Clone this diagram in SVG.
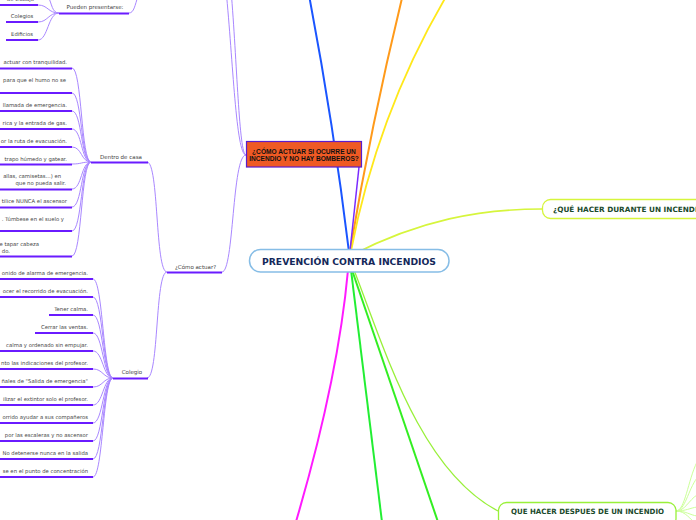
<svg xmlns="http://www.w3.org/2000/svg" width="696" height="520" viewBox="0 0 696 520">
<style>
.t{font-family:"DejaVu Sans",Verdana,sans-serif;font-size:5.3px;fill:#444}
.m{font-family:"DejaVu Sans",Verdana,sans-serif;font-size:5.5px;fill:#444}
.u{stroke:#6a1bff;stroke-width:2;fill:none}
.c{stroke:#a987ff;stroke-width:1;fill:none}
.ttl{font-family:"DejaVu Sans",Verdana,sans-serif;font-weight:bold}
</style>
<rect width="696" height="520" fill="#fff"/>
<g id="connectors" fill="none">
<path d="M349,252 Q333,120 308,-10" stroke="#1a55ff" stroke-width="2"/>
<path d="M350,251 Q372,120 404,-10" stroke="#ff9a1a" stroke-width="2"/>
<path d="M351,251 Q378,110 450,-10" stroke="#ffe81a" stroke-width="1.8"/>
<path d="M350,251 L359,167" stroke="#7a2aff" stroke-width="1.5"/>
<path d="M352,255 C420,220 480,209 542,209" stroke="#d6f53c" stroke-width="1.6"/>
<path d="M348,270 Q338,380 295,525" stroke="#ff1aff" stroke-width="2"/>
<path d="M351,270 L382,522" stroke="#22ee33" stroke-width="2"/>
<path d="M352,270 L438,522" stroke="#33ee22" stroke-width="2"/>
<path d="M354,270 C385,350 420,470 498,511" stroke="#99f03a" stroke-width="1.3"/>
<path d="M676,511 C685,511 688,480 697,462" stroke="#ccff99" stroke-width="1"/>
<path d="M676,511 C685,511 688,490 697,478" stroke="#ccff99" stroke-width="1"/>
<path d="M676,511 C685,511 689,500 697,495" stroke="#ccff99" stroke-width="1"/>
<path d="M676,511 C686,511 690,508 697,507" stroke="#ccff99" stroke-width="1"/>
<path d="M676,511 C686,511 690,515 697,516" stroke="#ccff99" stroke-width="1"/>
<path d="M676,511 C686,511 690,520 697,524" stroke="#ccff99" stroke-width="1"/>
<path class="c" d="M246,155 C236,155 233,60 226,-10"/>
<path class="c" d="M246,155 C239,155 237,60 231,-10"/>
<path class="c" d="M246,155 C232,155 234,272 222,272"/>
<path class="c" d="M167,272 C155,272 159,162 147,162"/>
<path class="c" d="M167,272 C155,272 159,378 147,378"/>
<path class="c" d="M129,13 C134,13 135,5 138,-4"/>
<path class="c" d="M59,13 C52,13 52,4 48,-4"/>
<path class="c" d="M59,13 C48,13 48,5 38,5"/>
<path class="c" d="M59,13 C48,13 48,22 38,22"/>
<path class="c" d="M59,13 C48,13 48,40 38,40"/>
<path class="c" d="M91,162 C81,162 82,68 72,68"/>
<path class="c" d="M91,162 C81,162 82,93 72,93"/>
<path class="c" d="M91,162 C81,162 82,111 72,111"/>
<path class="c" d="M91,162 C81,162 82,129 72,129"/>
<path class="c" d="M91,162 C81,162 82,147 72,147"/>
<path class="c" d="M91,162 C81,162 82,164 72,164"/>
<path class="c" d="M91,162 C81,162 82,189 72,189"/>
<path class="c" d="M91,162 C81,162 82,207 72,207"/>
<path class="c" d="M91,162 C81,162 82,231 72,231"/>
<path class="c" d="M91,162 C81,162 82,256 72,256"/>
<path class="c" d="M113,378 C103,378 103,279 93,279"/>
<path class="c" d="M113,378 C103,378 103,297 93,297"/>
<path class="c" d="M113,378 C103,378 103,315 93,315"/>
<path class="c" d="M113,378 C103,378 103,333 93,333"/>
<path class="c" d="M113,378 C103,378 103,351 93,351"/>
<path class="c" d="M113,378 C103,378 103,369 93,369"/>
<path class="c" d="M113,378 C103,378 103,387 93,387"/>
<path class="c" d="M113,378 C103,378 103,405 93,405"/>
<path class="c" d="M113,378 C103,378 103,423 93,423"/>
<path class="c" d="M113,378 C103,378 103,441 93,441"/>
<path class="c" d="M113,378 C103,378 103,459 93,459"/>
<path class="c" d="M113,378 C103,378 103,477 93,477"/>
</g>
<g id="root">
<rect x="249.5" y="249.5" width="199.5" height="22.5" rx="11" fill="#fff" stroke="#86bde6" stroke-width="1.5"/>
<text class="ttl" x="349" y="265" text-anchor="middle" font-size="8.7" fill="#14285a" textLength="174" lengthAdjust="spacingAndGlyphs">PREVENCIÓN CONTRA INCENDIOS</text>
</g>
<g id="durante">
<rect x="542.5" y="199.5" width="170" height="19" rx="8" fill="#fff" stroke="#d6f53c" stroke-width="1.3"/>
<text class="ttl" x="553" y="212" font-size="7.3" fill="#1b4a2c">¿QUÉ HACER DURANTE UN INCENDIO</text>
</g>
<g id="despues">
<rect x="498.5" y="502.5" width="177.5" height="24" rx="8" fill="#fff" stroke="#99f03a" stroke-width="1.3"/>
<text class="ttl" x="587.5" y="514" text-anchor="middle" font-size="7.3" fill="#1b4a2c" textLength="153" lengthAdjust="spacingAndGlyphs">QUE HACER DESPUES DE UN INCENDIO</text>
</g>
<g id="bomberos">
<rect x="246.5" y="141.5" width="115" height="25.5" fill="#ef5a24" stroke="#5b1ccc" stroke-width="1.2"/>
<text x="304" y="153.5" text-anchor="middle" font-family="Liberation Sans,Arial,sans-serif" font-weight="bold" font-size="6.6" fill="#111">¿CÓMO ACTUAR SI OCURRE UN</text>
<text x="304" y="161" text-anchor="middle" font-family="Liberation Sans,Arial,sans-serif" font-weight="bold" font-size="6.6" fill="#111">INCENDIO Y NO HAY BOMBEROS?</text>
</g>
<g id="como-actuar">
<text class="m" x="195.5" y="269" text-anchor="middle">¿Cómo actuar?</text>
<path class="u" d="M167,272.5 H222"/>
</g>
<g id="pueden">
<text class="m" x="95" y="8.5" text-anchor="middle">Pueden presentarse:</text>
<path class="u" d="M59,13.5 H129"/>
</g>
<g id="trabajo"><text class="t" x="34" y="1" text-anchor="end">de trabajo</text><path class="u" d="M0,5 H38"/></g>
<g id="colegios"><text class="t" x="22" y="17.5" text-anchor="middle">Colegios</text><path class="u" d="M6,22 H38"/></g>
<g id="edificios"><text class="t" x="22" y="36" text-anchor="middle">Edificios</text><path class="u" d="M6,40 H38"/></g>
<g id="dentro-casa">
<text class="m" x="121" y="158.5" text-anchor="middle">Dentro de casa</text>
<path class="u" d="M91,162.5 H148"/>
</g>
<g id="casa-1"><text class="t" x="67" y="63.5" text-anchor="end">actuar con tranquilidad.</text><path class="u" d="M0,68.5 H72"/></g>
<g id="casa-2"><text class="t" x="66" y="82" text-anchor="end">para que el humo no se</text><path class="u" d="M0,93 H72"/></g>
<g id="casa-3"><text class="t" x="67" y="107" text-anchor="end">llamada de emergencia.</text><path class="u" d="M0,111 H72"/></g>
<g id="casa-4"><text class="t" x="67" y="125" text-anchor="end">rica y la entrada de gas.</text><path class="u" d="M0,129 H72"/></g>
<g id="casa-5"><text class="t" x="67" y="143" text-anchor="end">or la ruta de evacuación.</text><path class="u" d="M0,147 H72"/></g>
<g id="casa-6"><text class="t" x="67" y="160.5" text-anchor="end">trapo húmedo y gatear.</text><path class="u" d="M0,164.5 H72"/></g>
<g id="casa-7"><text class="t" x="61" y="178" text-anchor="end">allas, camisetas...) en</text><text class="t" x="66" y="185" text-anchor="end">que no pueda salir.</text><path class="u" d="M0,189.5 H72"/></g>
<g id="casa-8"><text class="t" x="67" y="203" text-anchor="end">tilice NUNCA el ascensor</text><path class="u" d="M0,207.5 H72"/></g>
<g id="casa-9"><text class="t" x="64" y="221" text-anchor="end">. Túmbese en el suelo y</text><path class="u" d="M0,231 H72"/></g>
<g id="casa-10"><text class="t" x="39" y="246" text-anchor="end">e tapar cabeza</text><text class="t" x="10" y="252.5" text-anchor="end">do.</text><path class="u" d="M0,256.5 H72"/></g>
<g id="colegio">
<text class="m" x="132" y="374" text-anchor="middle">Colegio</text>
<path class="u" d="M113,378.5 H148"/>
</g>
<g id="col-1"><text class="t" x="88" y="274.5" text-anchor="end">onido de alarma de emergencia.</text><path class="u" d="M0,279 H93"/></g>
<g id="col-2"><text class="t" x="88" y="292.5" text-anchor="end">ocer el recorrido de evacuación.</text><path class="u" d="M0,297 H93"/></g>
<g id="col-3"><text class="t" x="88" y="311" text-anchor="end">Tener calma.</text><path class="u" d="M49,315 H93"/></g>
<g id="col-4"><text class="t" x="88" y="328.5" text-anchor="end">Cerrar las ventas.</text><path class="u" d="M35,333 H93"/></g>
<g id="col-5"><text class="t" x="88" y="347" text-anchor="end">calma y ordenado sin empujar.</text><path class="u" d="M0,351 H93"/></g>
<g id="col-6"><text class="t" x="88" y="364.5" text-anchor="end">nto las indicaciones del profesor.</text><path class="u" d="M0,369 H93"/></g>
<g id="col-7"><text class="t" x="88" y="382.5" text-anchor="end">ñales de "Salida de emergencia"</text><path class="u" d="M0,387 H93"/></g>
<g id="col-8"><text class="t" x="88" y="400.5" text-anchor="end">ilizar el extintor solo el profesor.</text><path class="u" d="M0,405 H93"/></g>
<g id="col-9"><text class="t" x="88" y="418.5" text-anchor="end">orrido ayudar a sus compañeros</text><path class="u" d="M0,423 H93"/></g>
<g id="col-10"><text class="t" x="88" y="437" text-anchor="end">por las escaleras y no ascensor</text><path class="u" d="M0,441 H93"/></g>
<g id="col-11"><text class="t" x="88" y="455" text-anchor="end">No detenerse nunca en la salida</text><path class="u" d="M0,459 H93"/></g>
<g id="col-12"><text class="t" x="88" y="473" text-anchor="end">se en el punto de concentración</text><path class="u" d="M0,477 H93"/></g>
</svg>
